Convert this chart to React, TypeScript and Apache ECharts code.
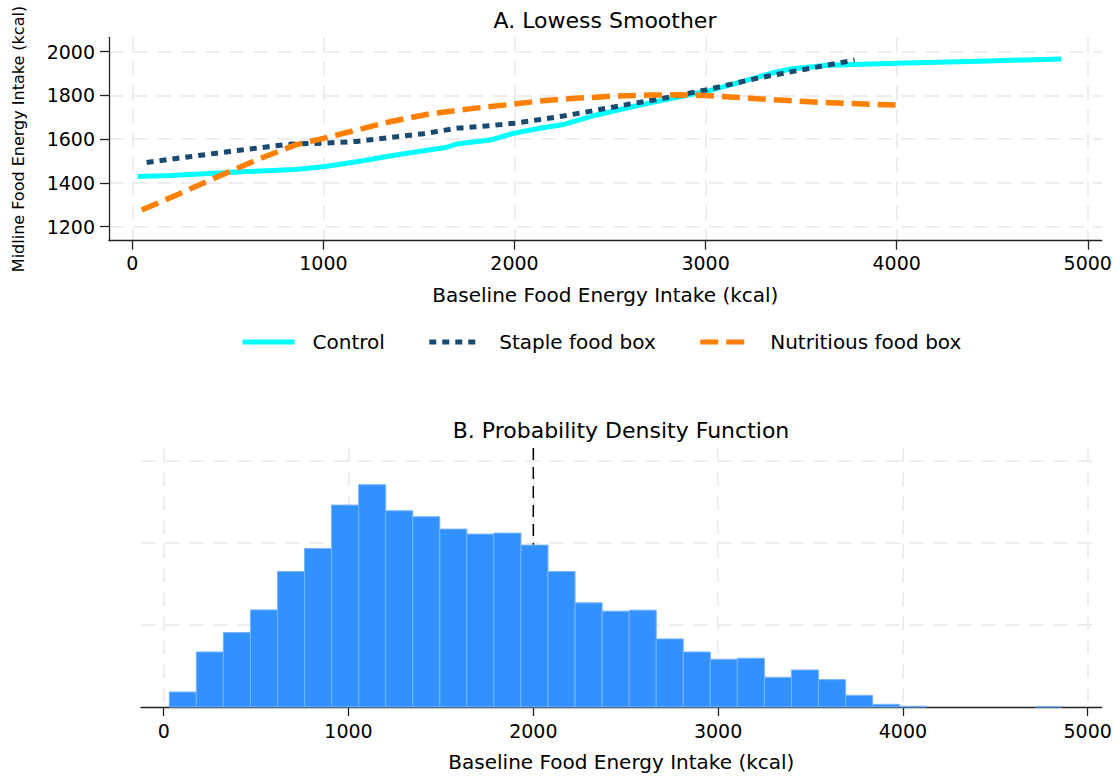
import React, { useEffect, useRef } from "react";
import * as echarts from "echarts";

const FONT = "DejaVu Sans";

const xTicks = [0, 1000, 2000, 3000, 4000, 5000];
const yTicksTop = [1200, 1400, 1600, 1800, 2000];
const densityGrid = [0.0002, 0.0004, 0.0006];

const titleA = "A. Lowess Smoother";
const titleB = "B. Probability Density Function";
const xTitle = "Baseline Food Energy Intake (kcal)";
const yTitle = "Midline Food Energy Intake (kcal)";
const seriesNames = ["Control", "Staple food box", "Nutritious food box"];

const controlCurve = [
  [28, 1429], [200, 1434], [400, 1443], [600, 1452], [850, 1462], [1000, 1474],
  [1174, 1497], [1348, 1523], [1523, 1547], [1640, 1562], [1697, 1578], [1872, 1596],
  [2000, 1628], [2133, 1650], [2255, 1667], [2429, 1711], [2604, 1746], [2778, 1779],
  [3000, 1818], [3200, 1866], [3360, 1905], [3452, 1922], [3640, 1938], [4000, 1947],
  [4480, 1958], [4860, 1967],
];

const stapleCurve = [
  [75, 1494], [300, 1520], [500, 1543], [816, 1577], [1000, 1582], [1174, 1590],
  [1348, 1608], [1523, 1625], [1697, 1650], [1872, 1662], [2000, 1673], [2133, 1690],
  [2255, 1706], [2429, 1733], [2604, 1761], [2778, 1787], [3000, 1825], [3266, 1878],
  [3452, 1909], [3640, 1939], [3780, 1962],
];

const nutritiousCurve = [
  [49, 1276], [250, 1352], [467, 1436], [650, 1505], [851, 1573], [1000, 1604],
  [1174, 1642], [1348, 1680], [1557, 1716], [1784, 1741], [2000, 1761], [2133, 1775],
  [2300, 1786], [2500, 1796], [2705, 1802], [2850, 1803], [3000, 1800], [3173, 1791],
  [3360, 1780], [3546, 1771], [3733, 1764], [4000, 1756],
];

const binStart = 30;
const binWidth = 146.4;
const densities = [
  0.0000366, 0.0001341, 0.0001812, 0.0002366, 0.00033, 0.0003861, 0.0004919,
  0.0005415, 0.000478, 0.0004634, 0.0004334, 0.0004212, 0.0004237, 0.0003944,
  0.00033, 0.0002537, 0.0002334, 0.0002359, 0.0001659, 0.0001341, 0.0001163,
  0.0001188, 0.0000724, 0.0000902, 0.0000666, 0.0000285, 0.0000066, 0.0000017,
  0, 0, 0, 0, 0.0000012,
];
const meanValue = 2000;

const topX = { min: -122, max: 5073 };
const topY = { min: 1136, max: 2066 };
const botX = { min: -123, max: 5076 };
const botY = { min: 0, max: 0.0006327 };

export default function App() {
  const ref = useRef<HTMLDivElement>(null);
  useEffect(() => {
    if (!ref.current) return;
    const chart = echarts.init(ref.current, null, { renderer: "svg" });
    const gridLine = {
      show: true,
      lineStyle: { color: "#e8e8e8", width: 1.5, type: [15, 9] as any },
    };
    const axisColor = "#222";
    const plain = (v: number) => String(v);
    const labelStyle = { color: "#000", fontSize: 19, fontFamily: FONT, formatter: plain };
    const nameStyle = { color: "#000", fontSize: 20, fontFamily: FONT };

    const histData = densities.map((d, i) => [
      binStart + i * binWidth,
      binStart + (i + 1) * binWidth,
      d,
    ]);

    chart.setOption({
      animation: false,
      backgroundColor: "#fff",
      textStyle: { fontFamily: FONT },
      grid: [
        { left: 109, top: 37.3, width: 992.7, height: 203.4 },
        { left: 141, top: 447.3, width: 960.7, height: 259.7 },
      ],
      xAxis: [
        {
          gridIndex: 0,
          type: "value",
          min: topX.min,
          max: topX.max,
          axisLine: { show: true, onZero: false, lineStyle: { color: axisColor, width: 1.3 } },
          axisTick: { show: true, length: 9, customValues: xTicks, lineStyle: { color: axisColor, width: 1.3 } },
          axisLabel: { customValues: xTicks, margin: 13, ...labelStyle },
          splitLine: gridLine,
          name: xTitle,
          nameLocation: "middle",
          nameGap: 44,
          nameTextStyle: nameStyle,
        },
        {
          gridIndex: 1,
          type: "value",
          min: botX.min,
          max: botX.max,
          axisLine: { show: true, onZero: false, lineStyle: { color: axisColor, width: 1.3 } },
          axisTick: { show: true, length: 9, customValues: xTicks, lineStyle: { color: axisColor, width: 1.3 } },
          axisLabel: { customValues: xTicks, margin: 14, ...labelStyle },
          splitLine: gridLine,
          name: xTitle,
          nameLocation: "middle",
          nameGap: 45,
          nameTextStyle: nameStyle,
        },
      ],
      yAxis: [
        {
          gridIndex: 0,
          type: "value",
          min: topY.min,
          max: topY.max,
          axisLine: { show: true, onZero: false, lineStyle: { color: axisColor, width: 1.3 } },
          axisTick: { show: true, length: 9, customValues: yTicksTop, lineStyle: { color: axisColor, width: 1.3 } },
          axisLabel: { customValues: yTicksTop, margin: 14, ...labelStyle },
          splitLine: gridLine,
          name: yTitle,
          nameLocation: "middle",
          nameGap: 83,
          nameRotate: 90,
          nameTextStyle: { color: "#000", fontSize: 16, fontFamily: FONT },
        },
        {
          gridIndex: 1,
          type: "value",
          min: botY.min,
          max: botY.max,
          axisLine: { show: false },
          axisTick: { show: false, customValues: densityGrid },
          axisLabel: { show: false, customValues: densityGrid },
          splitLine: gridLine,
        },
      ],
      legend: {
        data: seriesNames,
        left: 235,
        top: 327,
        itemWidth: 52,
        itemHeight: 14,
        itemGap: 42,
        itemStyle: { opacity: 0 },
        lineStyle: { width: 5 },
        textStyle: { color: "#000", fontSize: 20, fontFamily: FONT, padding: [0, 0, 0, 13] },
      },
      graphic: [
        {
          type: "text",
          x: 605,
          y: 20,
          style: { text: titleA, fontSize: 22, fontFamily: FONT, fill: "#000", align: "center", verticalAlign: "middle" },
        },
        {
          type: "text",
          x: 621,
          y: 430,
          style: { text: titleB, fontSize: 22, fontFamily: FONT, fill: "#000", align: "center", verticalAlign: "middle" },
        },
      ],
      series: [
        {
          name: seriesNames[0],
          type: "line",
          xAxisIndex: 0,
          yAxisIndex: 0,
          data: controlCurve,
          symbol: "none",
          showSymbol: false,
          itemStyle: { color: "#00ffff" },
          lineStyle: { color: "#00ffff", width: 5 },
          z: 3,
        },
        {
          name: seriesNames[1],
          type: "line",
          xAxisIndex: 0,
          yAxisIndex: 0,
          data: stapleCurve,
          symbol: "none",
          showSymbol: false,
          itemStyle: { color: "#1b4a70" },
          lineStyle: { color: "#1b4a70", width: 5, type: [7, 6] },
          z: 4,
        },
        {
          name: seriesNames[2],
          type: "line",
          xAxisIndex: 0,
          yAxisIndex: 0,
          data: nutritiousCurve,
          symbol: "none",
          showSymbol: false,
          itemStyle: { color: "#ff8000" },
          lineStyle: { color: "#ff8000", width: 5.5, type: [18, 8] },
          z: 5,
        },
        {
          name: "mean",
          type: "line",
          xAxisIndex: 1,
          yAxisIndex: 1,
          data: [
            [meanValue, botY.min],
            [meanValue, botY.max],
          ],
          symbol: "none",
          showSymbol: false,
          silent: true,
          lineStyle: { color: "#000", width: 1.5, type: [12, 7] },
          z: 1,
        },
        {
          name: "density",
          type: "custom",
          xAxisIndex: 1,
          yAxisIndex: 1,
          data: histData,
          encode: { x: [0, 1], y: 2 },
          z: 2,
          renderItem: (params: any, api: any) => {
            const h = api.value(2);
            if (!h) return null;
            const a = api.coord([api.value(0), 0]);
            const b = api.coord([api.value(1), h]);
            return {
              type: "rect",
              shape: { x: a[0], y: b[1], width: b[0] - a[0], height: a[1] - b[1] },
              style: { fill: "#3391ff", stroke: "#74b4ff", lineWidth: 1 },
            };
          },
        },
      ],
    });
    return () => chart.dispose();
  }, []);
  return (
    <div
      ref={ref}
      style={{ position: "fixed", left: 0, top: 0, width: 1120, height: 778, background: "#fff" }}
    />
  );
}
